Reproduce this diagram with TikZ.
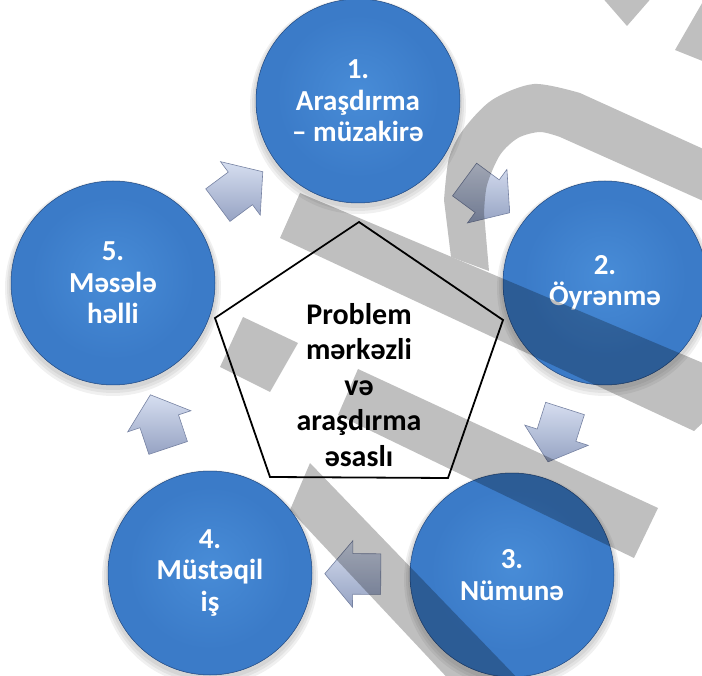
\documentclass[tikz,border=0pt]{standalone}
\usepackage{fontspec}
\setmainfont{Carlito}
\usetikzlibrary{shapes.arrows}
\definecolor{btnA}{RGB}{72,140,215}
\definecolor{btnB}{RGB}{59,123,200}
\definecolor{btnC}{RGB}{40,90,160}
\definecolor{arrL}{RGB}{214,222,240}
\definecolor{arrD}{RGB}{150,163,195}
\definecolor{arrE}{RGB}{118,130,162}
\pgfdeclareradialshading{btnshade}{\pgfpoint{0bp}{2bp}}{color(0bp)=(btnA); color(20bp)=(btnB); color(25.5bp)=(btnB); color(27.5bp)=(btnC); color(50bp)=(btnC)}
\begin{document}
\begin{tikzpicture}[x=1pt,y=-1pt,
  btn/.style={circle, minimum size=204pt, inner sep=0pt, shading=btnshade, draw=btnC!80!black, line width=0.5pt, text=white, font=\bfseries\fontsize{29}{31.5}\selectfont, align=center},
  flowarrow/.style={single arrow, single arrow head extend=13pt, single arrow tip angle=100, minimum height=56pt, minimum width=0pt, inner xsep=0pt, inner ysep=20pt, shade, top color=arrL, bottom color=arrD, draw=arrE, line width=0.6pt, sloped, allow upside down},
  wm/.style={fill=black},
  centre/.style={font=\bfseries\fontsize{30}{35.5}\selectfont, align=center, text=black},
  cshadow/.style={fill=black, opacity=0.06}]
\useasboundingbox (0,0) rectangle (702,676);
\clip (0,0) rectangle (702,676);
% soft shadows under the circles
\foreach \x/\y in {358/101,605/283,512/575,210/573,113/283}{
  \foreach \r/\d in {108/5,106/4,104/3}{\fill[cshadow] (\x,\y+\d) circle (\r);}
}
% circles
\node[btn] (c1) at (358,101) {1.\\Araşdırma\\– müzakirə};
\node[btn] (c2) at (605,283) {2.\\Öyrənmə};
\node[btn] (c3) at (512,575) {3.\\Nümunə};
\node[btn] (c4) at (210,573) {4.\\Müstəqil\\iş};
\node[btn] (c5) at (113,283) {5.\\Məsələ\\həlli};
% block arrows between the circles
\path (c5) -- (c1) node[flowarrow, pos=0.475] (a51) {};
\path (c1) -- (c2) node[flowarrow, pos=0.485] (a12) {};
\path (c2) -- (c3) node[flowarrow, pos=0.48] (a23) {};
\path (c3) -- (c4) node[flowarrow, pos=0.497] (a34) {};
\path (c4) -- (c5) node[flowarrow, pos=0.485] (a45) {};
% central pentagon
\draw[line width=1.8pt, fill=white] (359,222) -- (503,320) -- (448,478) -- (270,477) -- (215,318) -- cycle;
\node[centre] (pc) at (359,385) {Problem\\mərkəzli\\və\\araşdırma\\əsaslı};
% grey watermark bands
\begin{scope}[transparency group, opacity=0.25]
\fill[wm] (300,193) -- (710,366) -- (710,416) -- (694,431) -- (280,238) -- cycle;
\fill[wm] (451,257) -- plot[smooth] coordinates {(444,200) (449,158) (463,130) (492,100) (534,84) (580,93)} -- (710,152) -- (710,204) -- plot[smooth] coordinates {(560,137) (540,132) (518,138) (500,155) (487,185) (484,213)} -- (489,271) -- cycle;
\fill[wm] (358,369) -- (658,508) -- (634,558) -- (338,415) -- cycle;
\fill[wm] (310,463) -- (525,686) -- (455,686) -- (290,510) -- cycle;
\fill[wm] (243,317) -- (298,343) -- (270,392) -- (220,367) -- cycle;
\fill[wm] (600,-5) -- (654,-5) -- (627,26) -- cycle;
\fill[wm] (675,50) -- (705,-2) -- (710,64) -- cycle;
\end{scope}
\end{tikzpicture}
\end{document}
